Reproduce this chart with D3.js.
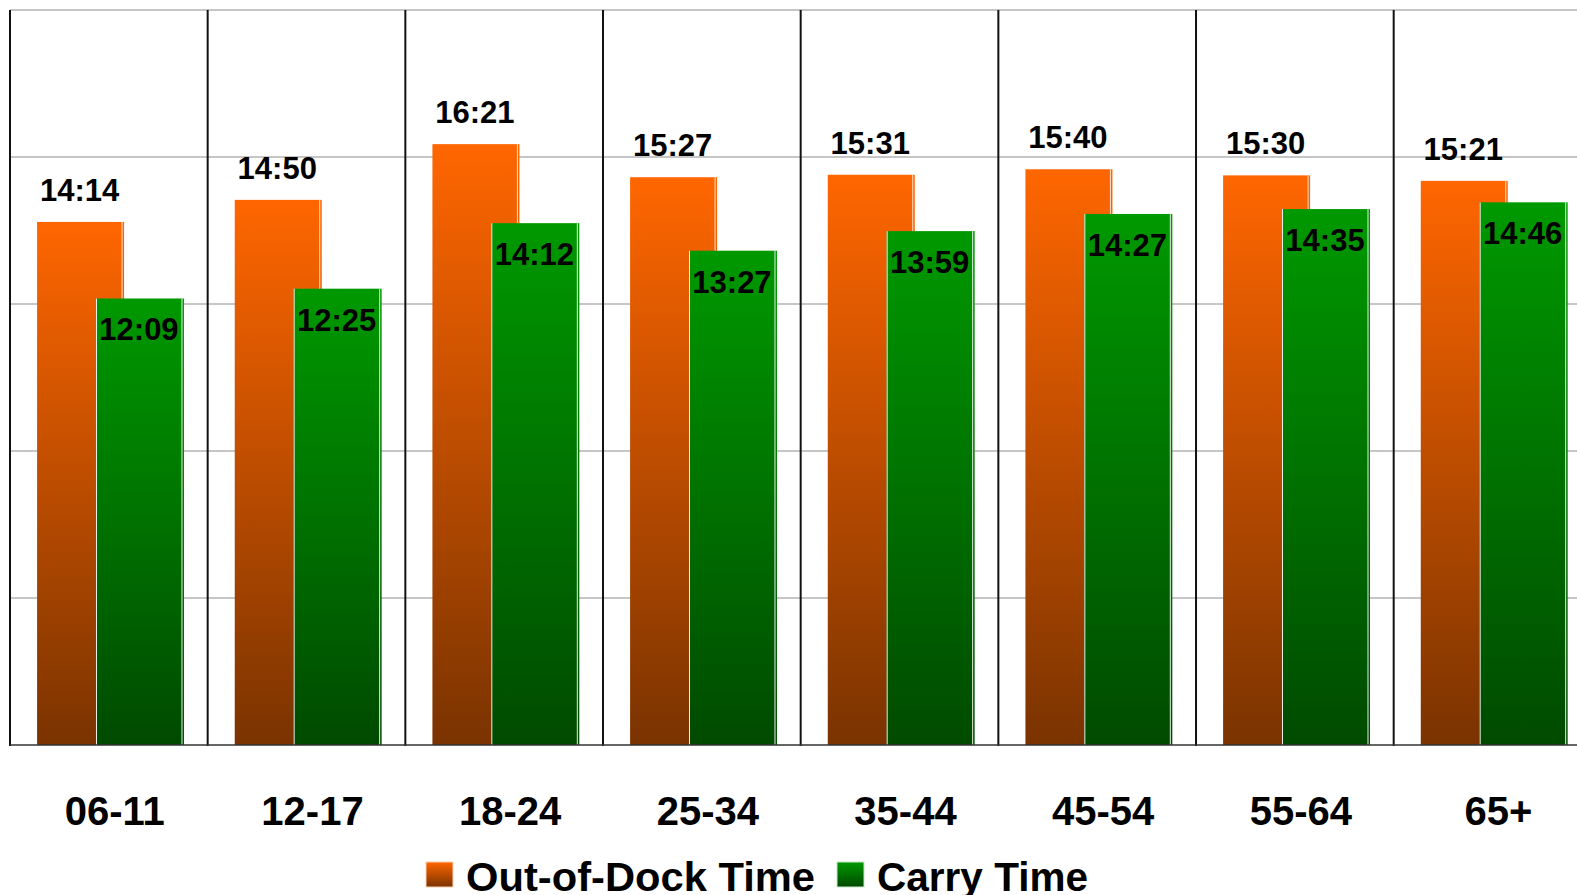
<!DOCTYPE html>
<html>
<head>
<meta charset="utf-8">
<script src="https://cdn.jsdelivr.net/npm/d3@7"></script>
<style>
  html, body { margin: 0; padding: 0; background: #fff; overflow: hidden; }
  svg { display: block; }
</style>
</head>
<body>
<svg id="chart" width="1577" height="895"></svg>
<script>
// ---- data ----
const categories = ["06-11", "12-17", "18-24", "25-34", "35-44", "45-54", "55-64", "65+"];
const outOfDock = ["14:14", "14:50", "16:21", "15:27", "15:31", "15:40", "15:30", "15:21"];
const carryTime = ["12:09", "12:25", "14:12", "13:27", "13:59", "14:27", "14:35", "14:46"];
const seriesNames = ["Out-of-Dock Time", "Carry Time"];
const yTicks = [0, 240, 480, 720, 960, 1200]; // seconds

(function () {
const toSec = s => { const [m, ss] = s.split(":").map(Number); return m * 60 + ss; };

const svg = d3.select("#chart");
const W = 1577;
const leftX = 10, bandW = 197.67, topY = 10, baseY = 745;

const x = d3.scaleBand().domain(categories).range([leftX, leftX + bandW * categories.length]).padding(0);
const y = d3.scaleLinear().domain([0, 1200]).range([baseY, topY]);

// gradients
const defs = svg.append("defs");
function grad(id, c1, c2) {
  const g = defs.append("linearGradient").attr("id", id).attr("x1", 0).attr("y1", 0).attr("x2", 0).attr("y2", 1);
  g.append("stop").attr("offset", "0%").attr("stop-color", c1);
  g.append("stop").attr("offset", "100%").attr("stop-color", c2);
}
grad("gOrange", "#ff6600", "#7a3300");
grad("gGreen", "#009900", "#004a00");

// horizontal gridlines
svg.append("g").selectAll("line").data(yTicks.slice(1)).join("line")
  .attr("x1", leftX).attr("x2", W)
  .attr("y1", d => y(d)).attr("y2", d => y(d))
  .attr("stroke", "#c6c6c6").attr("stroke-width", 2);

// vertical separators
const seps = categories.map(c => x(c));
svg.append("g").selectAll("line").data(seps).join("line")
  .attr("x1", d => d).attr("x2", d => d)
  .attr("y1", topY).attr("y2", baseY + 1)
  .attr("stroke", "#111").attr("stroke-width", 2);

const bw = x.bandwidth();
const oOff = bw * 0.137, oW = bw * 0.43;
const gOff = bw * 0.435, gW = bw * 0.435;

// orange bars
const og = svg.append("g");
categories.forEach((c, i) => {
  const v = toSec(outOfDock[i]);
  const x0 = x(c) + oOff, yt = y(v);
  og.append("rect").attr("x", x0).attr("y", yt).attr("width", oW + 2).attr("height", baseY - yt)
    .attr("fill", "url(#gOrange)");
  og.append("line").attr("x1", x0 + oW).attr("x2", x0 + oW).attr("y1", yt).attr("y2", baseY)
    .attr("stroke", "#ffe0c8").attr("stroke-width", 1);
});

// green bars
const gg = svg.append("g");
categories.forEach((c, i) => {
  const v = toSec(carryTime[i]);
  const x0 = x(c) + gOff, yt = y(v);
  gg.append("rect").attr("x", x0).attr("y", yt).attr("width", gW + 2).attr("height", baseY - yt)
    .attr("fill", "url(#gGreen)");
  gg.append("line").attr("x1", x0 + 0.5).attr("x2", x0 + 0.5).attr("y1", yt).attr("y2", baseY)
    .attr("stroke", "#e8f0e8").attr("stroke-width", 1);
  gg.append("line").attr("x1", x0 + gW).attr("x2", x0 + gW).attr("y1", yt).attr("y2", baseY)
    .attr("stroke", "#e0f0e0").attr("stroke-width", 1);
});

// axis lines
svg.append("line").attr("x1", leftX).attr("x2", leftX).attr("y1", topY).attr("y2", baseY + 1)
  .attr("stroke", "#111").attr("stroke-width", 2);
svg.append("line").attr("x1", leftX).attr("x2", W).attr("y1", baseY).attr("y2", baseY)
  .attr("stroke", "#333").attr("stroke-width", 1.5);

// value labels
const lblFont = "'Liberation Sans', Arial, sans-serif";
svg.append("g").selectAll("text").data(categories).join("text")
  .attr("x", (c) => x(c) + oOff + oW / 2)
  .attr("y", (c, i) => y(toSec(outOfDock[i])) - 21)
  .attr("text-anchor", "middle")
  .attr("font-family", lblFont).attr("font-weight", "bold").attr("font-size", 31)
  .attr("fill", "#000")
  .text((c, i) => outOfDock[i]);

svg.append("g").selectAll("text").data(categories).join("text")
  .attr("x", (c) => x(c) + gOff + gW / 2)
  .attr("y", (c, i) => y(toSec(carryTime[i])) + 42)
  .attr("text-anchor", "middle")
  .attr("font-family", lblFont).attr("font-weight", "bold").attr("font-size", 31)
  .attr("fill", "#000")
  .text((c, i) => carryTime[i]);

// category labels
svg.append("g").selectAll("text").data(categories).join("text")
  .attr("x", c => x(c) + bw / 2 + 6)
  .attr("y", 825)
  .attr("text-anchor", "middle")
  .attr("font-family", lblFont).attr("font-weight", "bold").attr("font-size", 40)
  .attr("fill", "#000")
  .text(c => c);

// legend
const legend = [
  { name: seriesNames[0], fill: "url(#gOrange)", sx: 426, tx: 466, len: 349, edge: "#ffd0b0" },
  { name: seriesNames[1], fill: "url(#gGreen)", sx: 837, tx: 877, len: 211, edge: "#c8e8c8" }
];
const lg = svg.append("g");
legend.forEach(l => {
  lg.append("rect").attr("x", l.sx).attr("y", 862).attr("width", 27).attr("height", 25)
    .attr("fill", l.fill).attr("stroke", l.edge).attr("stroke-width", 1);
  lg.append("text").attr("x", l.tx).attr("y", 891)
    .attr("font-family", lblFont)
    .attr("font-weight", "bold").attr("font-size", 41)
    .attr("textLength", l.len).attr("lengthAdjust", "spacingAndGlyphs")
    .attr("fill", "#000").text(l.name);
});
})();
</script>
</body>
</html>
